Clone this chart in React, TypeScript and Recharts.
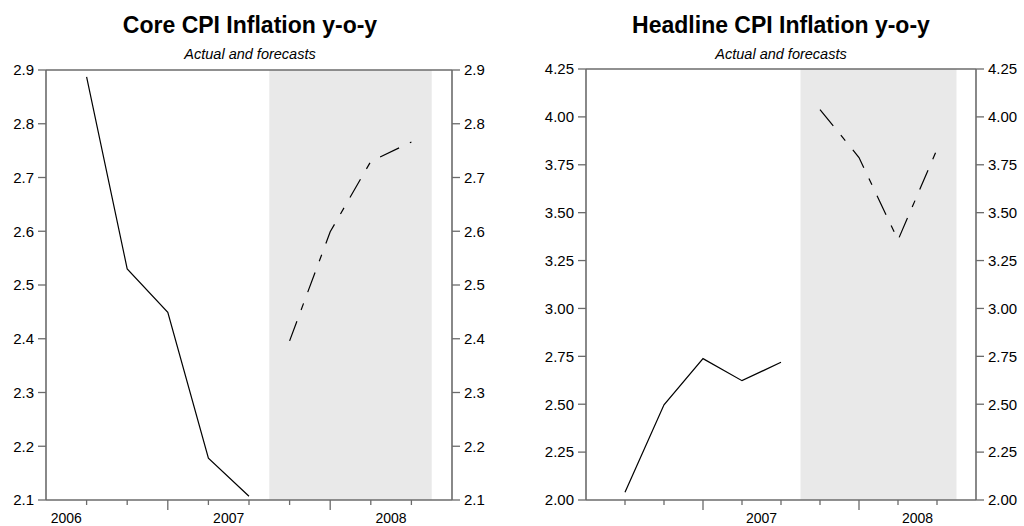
import React from 'react';
import { LineChart, Line, XAxis, YAxis, ReferenceArea, ReferenceLine } from 'recharts';

// quarter index of each observation (0 = first plotted quarter)
const quarterIdx = [0, 1, 2, 3, 4, 5, 6, 7, 8];

const coreActual = [2.887, 2.53, 2.449, 2.178, 2.107, null, null, null, null];
const coreForecast = [null, null, null, null, null, 2.396, 2.599, 2.73, 2.766];

const headActual = [2.04, 2.497, 2.738, 2.623, 2.719, null, null, null, null];
const headForecast = [null, null, null, null, null, 4.038, 3.788, 3.357, 3.83];

const coreTicks = [2.1, 2.2, 2.3, 2.4, 2.5, 2.6, 2.7, 2.8, 2.9];
const headTicks = [2.0, 2.25, 2.5, 2.75, 3.0, 3.25, 3.5, 3.75, 4.0, 4.25];

const coreYears = [
  { pos: -0.5, label: '2006' },
  { pos: 3.5, label: '2007' },
  { pos: 7.5, label: '2008' },
];
const headYears = [
  { pos: 3.5, label: '2007' },
  { pos: 7.5, label: '2008' },
];
const majorQuarters = [2, 6];
const forecastStart = 4.5;
const forecastEnd = 8.5;

const FONT = '"Liberation Sans", Arial, Helvetica, sans-serif';
const AXIS = '#6b6b6b';

const buildRows = (a: (number | null)[], f: (number | null)[]) =>
  quarterIdx.map((q, i) => ({ q, actual: a[i], forecast: f[i] }));

const makeXTick = (years: { pos: number; label: string }[]) => (props: any) => {
  const { x, y, payload } = props;
  const v = payload.value;
  const yr = years.find((d) => d.pos === v);
  if (yr) {
    return (
      <text x={x} y={y + 23} textAnchor="middle" fontFamily={FONT} fontSize={14} fill="#000">
        {yr.label}
      </text>
    );
  }
  const len = majorQuarters.includes(v) ? 10 : 5;
  return <line x1={x} x2={x} y1={y} y2={y + len} stroke={AXIS} strokeWidth={1.3} />;
};

type PanelProps = {
  rows: any[];
  ticks: number[];
  years: { pos: number; label: string }[];
  decimals: number;
  margin: { top: number; right: number; bottom: number; left: number };
};

const Panel = ({ rows, ticks, years, decimals, margin }: PanelProps) => {
  const dom: [number, number] = [ticks[0], ticks[ticks.length - 1]];
  const xTicks = [...quarterIdx, ...years.map((d) => d.pos)].sort((a, b) => a - b);
  const tickStyle = { fontFamily: FONT, fontSize: 15, fill: '#000' };
  return (
    <LineChart width={512} height={526} data={rows} margin={margin}>
      <ReferenceArea
        yAxisId="l"
        x1={forecastStart}
        x2={forecastEnd}
        y1={dom[0]}
        y2={dom[1]}
        fill="#e9e9e9"
        fillOpacity={1}
        stroke="none"
      />
      <XAxis
        dataKey="q"
        type="number"
        domain={[-1, 9]}
        ticks={xTicks}
        interval={0}
        allowDataOverflow
        height={26}
        tickLine={false}
        tickSize={0}
        tickMargin={0}
        axisLine={{ stroke: AXIS, strokeWidth: 1.6 }}
        tick={makeXTick(years)}
      />
      <YAxis
        yAxisId="l"
        orientation="left"
        domain={dom}
        ticks={ticks}
        interval={0}
        allowDataOverflow
        width={40}
        tickSize={8}
        tickMargin={4}
        axisLine={{ stroke: AXIS, strokeWidth: 1.6 }}
        tickLine={{ stroke: AXIS, strokeWidth: 1.3 }}
        tick={tickStyle}
        tickFormatter={(v: number) => v.toFixed(decimals)}
      />
      <YAxis
        yAxisId="r"
        orientation="right"
        domain={dom}
        ticks={ticks}
        interval={0}
        allowDataOverflow
        width={40}
        tickSize={8}
        tickMargin={4}
        axisLine={{ stroke: AXIS, strokeWidth: 1.6 }}
        tickLine={{ stroke: AXIS, strokeWidth: 1.3 }}
        tick={tickStyle}
        tickFormatter={(v: number) => v.toFixed(decimals)}
      />
      <ReferenceLine yAxisId="l" y={dom[1]} stroke={AXIS} strokeWidth={1.6} />
      <Line
        yAxisId="l"
        type="linear"
        dataKey="actual"
        stroke="#000"
        strokeWidth={1.2}
        dot={false}
        activeDot={false}
        isAnimationActive={false}
      />
      <Line
        yAxisId="r"
        type="linear"
        dataKey="forecast"
        stroke="#000"
        strokeWidth={1.2}
        strokeDasharray="21 12 7 12"
        dot={false}
        activeDot={false}
        isAnimationActive={false}
      />
    </LineChart>
  );
};

export default function App() {
  return (
    <div
      style={{
        position: 'absolute',
        left: 0,
        top: 0,
        width: 1024,
        height: 526,
        background: '#fff',
        overflow: 'hidden',
      }}
    >
      <div style={{ position: 'absolute', left: 0, top: 0 }}>
        <Panel
          rows={buildRows(coreActual, coreForecast)}
          ticks={coreTicks}
          years={coreYears}
          decimals={1}
          margin={{ top: 70, right: 20, bottom: 0, left: 6 }}
        />
      </div>
      <div style={{ position: 'absolute', left: 512, top: 0 }}>
        <Panel
          rows={buildRows(headActual, headForecast)}
          ticks={headTicks}
          years={headYears}
          decimals={2}
          margin={{ top: 69, right: 8, bottom: 0, left: 34 }}
        />
      </div>
      <svg
        width={1024}
        height={66}
        style={{ position: 'absolute', left: 0, top: 0, pointerEvents: 'none' }}
      >
        <text x={250} y={33} textAnchor="middle" fontFamily={FONT} fontWeight="bold" fontSize={23} fill="#000">
          Core CPI Inflation y-o-y
        </text>
        <text x={250} y={59} textAnchor="middle" fontFamily={FONT} fontStyle="italic" fontSize={14.5} fill="#000">
          Actual and forecasts
        </text>
        <text x={781} y={33} textAnchor="middle" fontFamily={FONT} fontWeight="bold" fontSize={23} fill="#000">
          Headline CPI Inflation y-o-y
        </text>
        <text x={781} y={59} textAnchor="middle" fontFamily={FONT} fontStyle="italic" fontSize={14.5} fill="#000">
          Actual and forecasts
        </text>
      </svg>
    </div>
  );
}
